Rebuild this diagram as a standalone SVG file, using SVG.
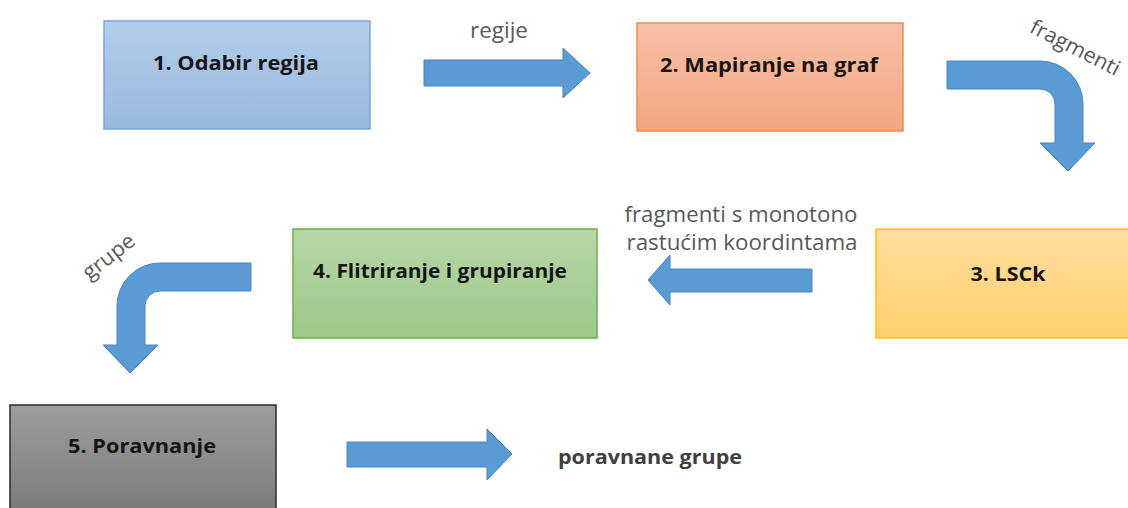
<svg xmlns="http://www.w3.org/2000/svg" width="1128" height="508" viewBox="0 0 1128 508">
  <style>
    .box { stroke-width: 1.5; }
    .title { font-family: "Open Sans", "Liberation Sans", sans-serif; font-weight: bold; font-size: 20px; fill: #151515; text-anchor: middle; }
    .label { font-family: "Open Sans", "Liberation Sans", sans-serif; font-size: 21px; fill: #595959; text-anchor: middle; }
    .label-bold { font-family: "Open Sans", "Liberation Sans", sans-serif; font-weight: bold; font-size: 20px; fill: #404040; text-anchor: middle; }
    .arrow { fill: #5b9bd5; stroke: #4a83bb; stroke-width: 1; }
  </style>
  <defs>
    <linearGradient id="gBlue" x1="0" y1="0" x2="0" y2="1">
      <stop offset="0" stop-color="#b4cdea"/>
      <stop offset="1" stop-color="#98b9df"/>
    </linearGradient>
    <linearGradient id="gOrange" x1="0" y1="0" x2="0" y2="1">
      <stop offset="0" stop-color="#f7c0a7"/>
      <stop offset="1" stop-color="#f4a682"/>
    </linearGradient>
    <linearGradient id="gYellow" x1="0" y1="0" x2="0" y2="1">
      <stop offset="0" stop-color="#ffdd9e"/>
      <stop offset="1" stop-color="#ffd16d"/>
    </linearGradient>
    <linearGradient id="gGreen" x1="0" y1="0" x2="0" y2="1">
      <stop offset="0" stop-color="#b8d7a8"/>
      <stop offset="1" stop-color="#9dc886"/>
    </linearGradient>
    <linearGradient id="gGray" x1="0" y1="0" x2="0" y2="1">
      <stop offset="0" stop-color="#9d9d9d"/>
      <stop offset="1" stop-color="#7a7a7a"/>
    </linearGradient>
  </defs>

  <rect width="1128" height="508" fill="#ffffff"/>

  <!-- process steps -->
  <g id="step1">
    <rect class="box" x="104" y="21" width="266" height="108" fill="url(#gBlue)" stroke="#7aa6da"/>
    <text class="title" x="236" y="70" textLength="166" lengthAdjust="spacingAndGlyphs">1. Odabir regija</text>
  </g>
  <g id="step2">
    <rect class="box" x="637" y="23" width="266" height="108" fill="url(#gOrange)" stroke="#f08c50"/>
    <text class="title" x="769" y="72" textLength="218" lengthAdjust="spacingAndGlyphs">2. Mapiranje na graf</text>
  </g>
  <g id="step3">
    <rect class="box" x="876" y="229" width="266" height="109" fill="url(#gYellow)" stroke="#ffc000"/>
    <text class="title" x="1008" y="281" textLength="75" lengthAdjust="spacingAndGlyphs">3. LSCk</text>
  </g>
  <g id="step4">
    <rect class="box" x="293" y="229" width="304" height="109" fill="url(#gGreen)" stroke="#70ad47"/>
    <text class="title" x="440" y="278" textLength="254" lengthAdjust="spacingAndGlyphs">4. Flitriranje i grupiranje</text>
  </g>
  <g id="step5">
    <rect class="box" x="10" y="405" width="266" height="110" fill="url(#gGray)" stroke="#2a2a2a"/>
    <text class="title" x="142" y="453" textLength="148" lengthAdjust="spacingAndGlyphs">5. Poravnanje</text>
  </g>

  <!-- connectors -->
  <g id="connectors">
    <path class="arrow" d="M424,60 H563 V48 L590,73 L563,98 V86 H424 Z"/>
    <text class="label" x="499" y="38" textLength="58" lengthAdjust="spacingAndGlyphs">regije</text>

    <path class="arrow" d="M947,61 H1040 A43,43 0 0 1 1083,104 V143 H1095 L1068,171 L1040,143 H1055 V104 A15,15 0 0 0 1040,89 H947 Z"/>
    <text class="label" transform="translate(1072,54) rotate(27)" x="0" y="0" textLength="98" lengthAdjust="spacingAndGlyphs">fragmenti</text>

    <path class="arrow" d="M812,269 H670 V255 L648,280 L670,305 V292 H812 Z"/>
    <text class="label" x="741" y="222" textLength="233" lengthAdjust="spacingAndGlyphs">fragmenti s monotono</text>
    <text class="label" x="742" y="250" textLength="231" lengthAdjust="spacingAndGlyphs">rastućim koordintama</text>

    <path class="arrow" d="M251,263 H160 A43,43 0 0 0 117,306 V345 H103 L130,373 L158,345 H145 V306 A15,15 0 0 1 160,291 H251 Z"/>
    <text class="label" transform="translate(113,262) rotate(-38)" x="0" y="0" textLength="60" lengthAdjust="spacingAndGlyphs">grupe</text>

    <path class="arrow" d="M347,442 H487 V429 L512,454 L487,480 V467 H347 Z"/>
    <text class="label-bold" x="650" y="464" textLength="184" lengthAdjust="spacingAndGlyphs">poravnane grupe</text>
  </g>
</svg>
